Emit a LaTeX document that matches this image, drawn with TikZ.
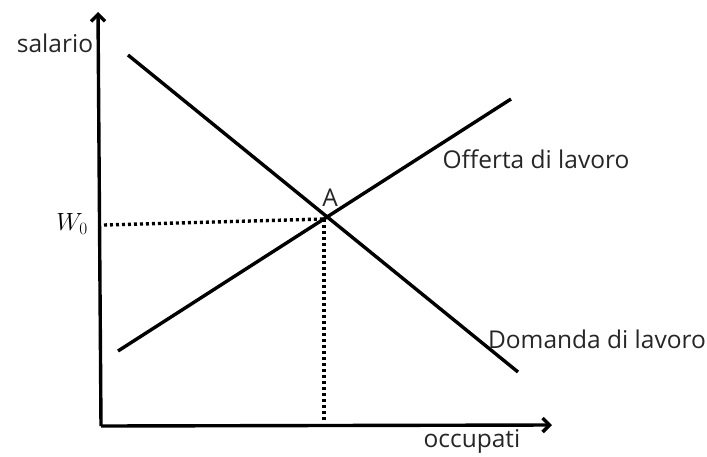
\documentclass[tikz,border=0pt]{standalone}
\usepackage{fontspec}
\setmainfont{Open Sans}
\usetikzlibrary{arrows.meta}
\begin{document}
\begin{tikzpicture}[x=1pt,y=-1pt,
  axis/.style={line width=3.4pt,-{Straight Barb[length=7pt,width=14pt,line width=3.4pt]}},
  curve/.style={line width=3.4pt},
  guide/.style={line width=3.4pt,dash pattern=on 3pt off 3pt},
  lbl/.style={font=\fontsize{24.5}{28}\selectfont,text=black!85,inner sep=0pt}]
\useasboundingbox (0,0) rectangle (707,456);
\coordinate (O) at (101,426);
\coordinate (Ytop) at (98,12);
\coordinate (Xend) at (552,425);
\draw[axis] (O) -- (Ytop);
\draw[axis] (O) -- (Xend);
\coordinate (D1) at (128,55);
\coordinate (D2) at (518,372);
\coordinate (S1) at (118,351);
\coordinate (S2) at (511,99);
\draw[curve] (D1) -- (D2);
\draw[curve] (S1) -- (S2);
\coordinate (A) at (324,219);
\coordinate (Wl) at (104,225);
\coordinate (Ab) at (324,420);
\draw[guide] (Wl) -- (A);
\draw[guide] (A) -- (Ab);
\node[lbl] (Alab) at (330,198) {A};
\node[lbl,font=\fontsize{27}{30}\selectfont,text=black] (W0) at (72,224) {$W_{0}$};
\node[lbl] (sal) at (55,43) {salario};
\node[lbl] (off) at (536,159) {Offerta di lavoro};
\node[lbl] (dom) at (597,339) {Domanda di lavoro};
\node[lbl] (occ) at (472,441) {occupati};
\end{tikzpicture}
\end{document}
